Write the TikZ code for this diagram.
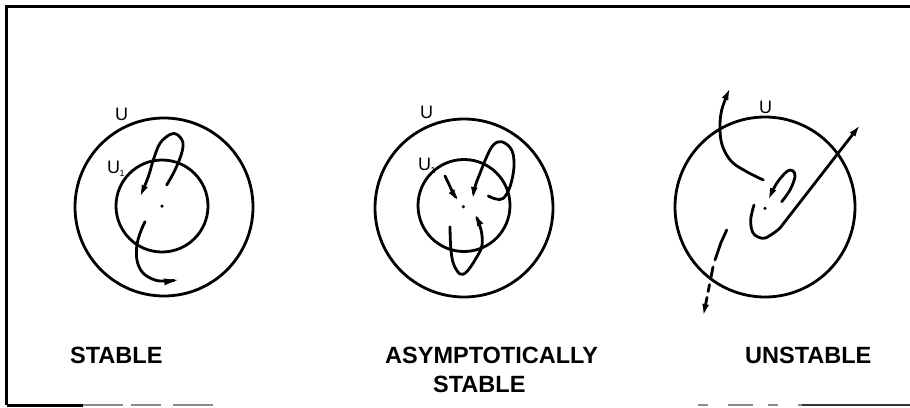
\documentclass[tikz,border=0pt]{standalone}
\usepackage{fontspec}
\setmainfont{Liberation Sans}
\usetikzlibrary{arrows.meta}
\tikzset{
  ln/.style={line width=2.8pt, line cap=round, line join=round},
  arr/.style={ln, -{Latex[length=12pt,width=7pt]}},
  longarr/.style={ln, -{Latex[length=18pt,width=7pt]}},
  lbl/.style={inner sep=0pt, anchor=base west, font=\bfseries\fontsize{23.5}{28}\selectfont},
  ulbl/.style={inner sep=0pt, anchor=base west, font=\fontsize{18}{20}\selectfont},
  dotmark/.style={circle, fill, inner sep=0pt, minimum size=3.5pt}
}
\begin{document}
\begin{tikzpicture}[x=1pt,y=-1pt]
\useasboundingbox (0,0) rectangle (910,407);
% frame
\draw[line width=3pt] (6.5,405) -- (6.5,6) -- (910,6);
\draw[line width=3pt] (6.5,405) -- (83,405);
\draw[line width=2pt, black!45, dash pattern=on 40pt off 8pt on 30pt off 12pt] (83,405) -- (220,405);
\draw[line width=2pt, black!45, dash pattern=on 10pt off 20pt on 25pt off 15pt] (698,405) -- (802,405);
\draw[line width=2.8pt, black!80] (802,405) -- (910,405);

% ---------- STABLE ----------
\draw[ln] (164,207) circle[radius=89pt];
\draw[ln] (162,206) circle[radius=46pt];
\node[dotmark] (d1) at (162,206) {};
\node[ulbl] (u1) at (115,120) {U};
\node[ulbl] (u1a) at (107,173) {U\kern-0.5pt\raisebox{-3pt}{\fontsize{9}{10}\selectfont 1}};
\draw[arr] plot[smooth, tension=0.6] coordinates {(166.7,185) (175,170) (181.7,153) (182.7,141.7) (176.7,134.3) (170,134.5) (160,143.3) (153.3,160) (148.3,176.7) (140,197)};
\draw[longarr] plot[smooth, tension=0.6] coordinates {(145,221.7) (140,233.3) (136.7,246.7) (137.3,261.7) (143.3,273.3) (155,280) (166.7,281) (182,279.3)};
\node[lbl] (t1) at (70,363) {STABLE};

% ---------- ASYMPTOTICALLY STABLE ----------
\draw[ln] (464,208) circle[radius=89pt];
\draw[ln] (464,205.5) circle[radius=46pt];
\node[dotmark] (d2) at (463.3,206.7) {};
\node[ulbl] (u2) at (420,118) {U};
\node[ulbl] (u2a) at (418,170) {U\kern-0.5pt\raisebox{-3pt}{\fontsize{9}{10}\selectfont 1}};
\draw[arr] plot[smooth, tension=0.6] coordinates {(445,176) (449.3,185) (453.3,193.3) (458.3,201)};
\draw[arr] plot[smooth, tension=0.6] coordinates {(488.3,196) (496,199) (503.3,198.3) (510,186.7) (514,166.7) (511.7,150) (501.7,141.7) (493.3,145) (486.7,156.7) (480,173.3) (475,186.7) (472.7,199)};
\draw[arr] plot[smooth, tension=0.6] coordinates {(450,226.7) (450.7,246.7) (453.3,263.3) (460,274) (466.7,271.7) (475,260) (481.7,246.7) (481.7,233.3) (478.3,221.7) (475,214)};
\node[lbl] (t2) at (385,363) {ASYMPTOTICALLY};
\node[lbl] (t2b) at (433,392) {STABLE};

% ---------- UNSTABLE ----------
\draw[ln] (765,207) circle[radius=90pt];
\node[dotmark] (d3) at (765,208.3) {};
\node[ulbl] (u3) at (759,113) {U};
\draw[arr] plot[smooth, tension=0.6] coordinates {(763.3,180) (746.7,171.7) (731.7,161.7) (722.7,146.7) (720,130) (721.7,110) (730,88)};
\draw[arr] plot[smooth, tension=0.6] coordinates {(781.7,201.7) (790,190) (795,176.7) (792.7,170.7) (786.7,171.7) (776.7,183.3) (768.3,200)};
\draw[ln] plot[smooth, tension=0.6] coordinates {(754,205) (750.7,220) (753.3,233.3) (763.3,238.3) (773.3,233.3) (780,228)};
\draw[arr] (780,228) -- (860,125);
\draw[ln] (726.7,230) -- (720.7,243.3) -- (715,260);
\draw[arr, dash pattern=on 12pt off 6pt on 7pt off 6pt] (713,267) -- (703.3,316);
\node[lbl] (t3) at (745,363) {UNSTABLE};
\end{tikzpicture}
\end{document}
